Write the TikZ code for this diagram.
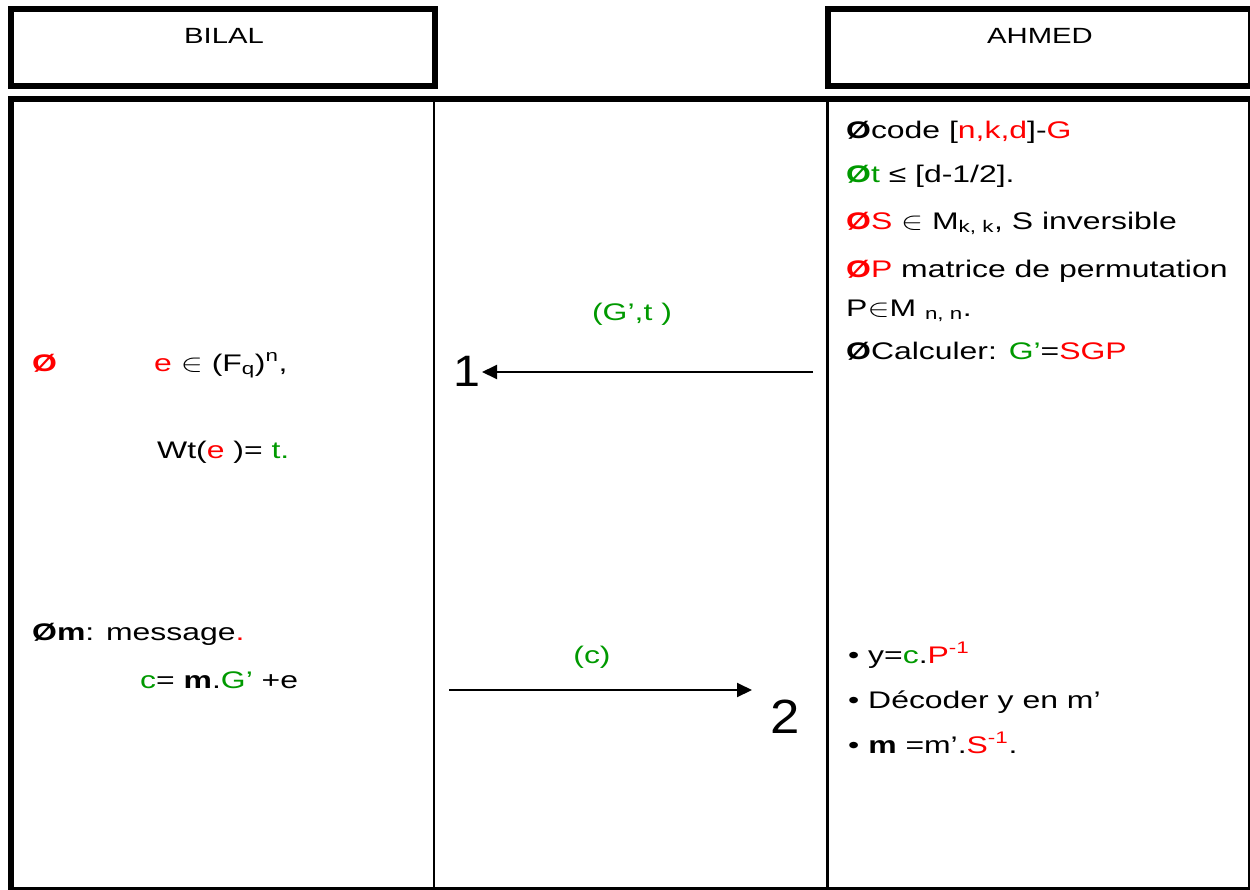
\documentclass[tikz,border=0pt]{standalone}
\usepackage{fontspec}
\usepackage{graphicx}
\setmainfont{Liberation Sans}
\usetikzlibrary{arrows.meta}
\definecolor{kred}{RGB}{255,0,0}
\definecolor{kgreen}{RGB}{0,153,0}
% text is set wide, as on the slide
\newcommand\wide[1]{\scalebox{1.33}[1]{#1}}
\newcommand\rd[1]{\textcolor{kred}{#1}}
\newcommand\gr[1]{\textcolor{kgreen}{#1}}
\newcommand\bul{\textbf{Ø}}
\tikzset{
  frame/.style={draw, line width=6pt},
  divider/.style={draw, line width=2.5pt},
  txt/.style={anchor=base west, inner sep=0pt, font=\fontsize{24}{28}\selectfont},
  ctxt/.style={txt, anchor=base},
  head/.style={anchor=base, inner sep=0pt, font=\fontsize{22}{26}\selectfont},
  bignum/.style={anchor=base west, inner sep=0pt, font=\fontsize{48}{52}\selectfont},
  msg/.style={draw, line width=2pt, -{Triangle[length=15pt,width=14pt]}},
}
\begin{document}
\begin{tikzpicture}[x=1pt,y=-1pt]
\useasboundingbox (0,0) rectangle (1250,889);

% header boxes
\draw[frame] (11,9) rectangle (435,86);
\draw[frame] (828,9) rectangle (1251,86);
\node[head] (hb) at (224,43) {\wide{BILAL}};
\node[head] (ha) at (1040,43) {\wide{AHMED}};

% main table
\draw[frame] (11,99) rectangle (1251,890);
\draw[divider] (434,99) -- (434,889);
\draw[divider] (827.5,99) -- (827.5,889);

% Ahmed: key generation
\node[txt] (a1) at (846,138) {\wide{\bul code [\rd{n,k,d}]-\rd{G}}};
\node[txt] (a2) at (846,182) {\wide{\gr{\bul t} ≤ [d-1/2].}};
\node[txt] (a3) at (846,229) {\wide{\rd{\bul S} $\in$\ M\textsubscript{k, k}, S inversible}};
\node[txt] (a4) at (846,277) {\wide{\rd{\bul P} matrice de permutation}};
\node[txt] (a5) at (846,316) {\wide{P$\in$M \textsubscript{n, n}.}};
\node[txt] (a6) at (846,359) {\wide{\bul Calculer: \gr{G’}=\rd{SGP}}};

% Bilal: encryption
\node[txt] (b0) at (32,371) {\wide{\rd{\bul}}};
\node[txt] (b1) at (154,371) {\wide{\rd{e} $\in$\ (F\textsubscript{q})\textsuperscript{n},}};
\node[txt] (b2) at (157,458) {\wide{Wt(\rd{e} )= \gr{t.}}};
\node[txt] (b3) at (32,640) {\wide{\bul\textbf{m}: message\rd{.}}};
\node[txt] (b4) at (140,688) {\wide{\gr{c}= \textbf{m}.\gr{G’} +e}};

% exchanged messages
\node[ctxt] (l1) at (632,320) {\wide{\gr{(G’,t )}}};
\node[bignum, font=\fontsize{44}{48}\selectfont] (n1) at (453,386) {\scalebox{1.1}[1]{1}};
\coordinate (s1) at (813,372);
\coordinate (e1) at (482,372);
\draw[msg] (s1) -- (e1);

\node[ctxt] (l2) at (592,663) {\wide{\gr{(c)}}};
\node[bignum] (n2) at (770,733) {\scalebox{1.1}[1]{2}};
\coordinate (s2) at (449,690);
\coordinate (e2) at (752,690);
\draw[msg] (s2) -- (e2);

% Ahmed: decryption
\node[txt] (d1) at (848,663) {\wide{\textbullet\ y=\gr{c}.\rd{P\textsuperscript{-1}}}};
\node[txt] (d2) at (848,708) {\wide{\textbullet\ Décoder y en m’}};
\node[txt] (d3) at (848,753) {\wide{\textbullet\ \textbf{m} =m’.\rd{S\textsuperscript{-1}}.}};
\end{tikzpicture}
\end{document}
